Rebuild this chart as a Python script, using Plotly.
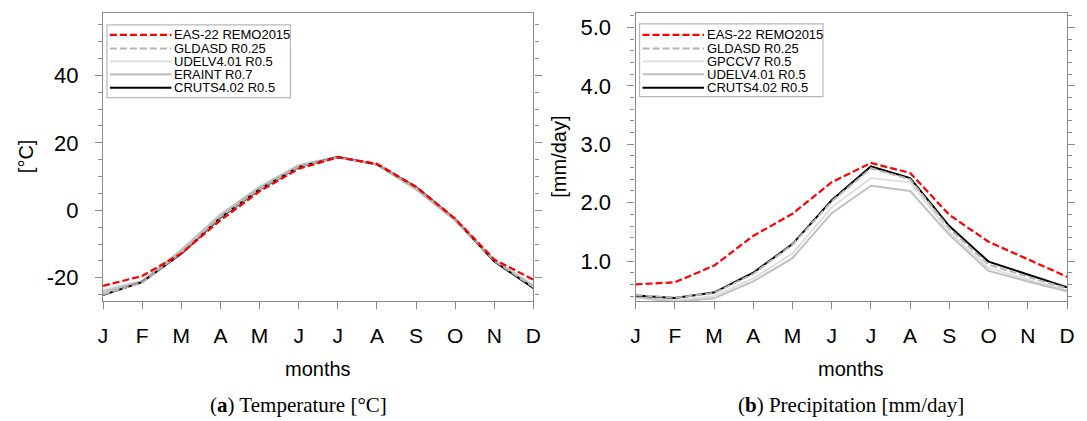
import plotly.graph_objects as go

months = ["J", "F", "M", "A", "M", "J", "J", "A", "S", "O", "N", "D"]
month_idx = list(range(12))

# Temperature [°C]
t_remo = [-22.4, -19.5, -12.8, -3.0, 5.6, 12.3, 15.7, 13.8, 7.0, -2.5, -14.6, -20.6]
t_gldas = [-25.0, -21.4, -12.6, -2.0, 6.3, 12.9, 15.7, 13.6, 6.7, -2.7, -15.0, -22.8]
t_udel = [-23.6, -21.0, -12.0, -1.6, 6.6, 13.1, 15.6, 13.5, 6.4, -2.9, -14.7, -22.2]
t_eraint = [-24.2, -21.0, -11.8, -1.3, 6.9, 13.3, 15.9, 13.6, 6.2, -3.0, -15.0, -22.5]
t_cru = [-25.1, -21.3, -12.9, -2.2, 6.2, 12.8, 15.8, 13.6, 6.9, -2.6, -15.2, -23.1]

# Precipitation [mm/day]
p_remo = [0.60, 0.635, 0.92, 1.43, 1.81, 2.35, 2.68, 2.51, 1.79, 1.33, 1.03, 0.73]
p_gldas = [0.42, 0.37, 0.45, 0.78, 1.28, 2.02, 2.59, 2.40, 1.56, 0.94, 0.73, 0.53]
p_gpcc = [0.40, 0.33, 0.40, 0.70, 1.13, 1.92, 2.42, 2.35, 1.50, 0.88, 0.68, 0.50]
p_udel = [0.38, 0.30, 0.36, 0.65, 1.05, 1.82, 2.29, 2.20, 1.45, 0.83, 0.65, 0.48]
p_cru = [0.41, 0.366, 0.46, 0.80, 1.29, 2.04, 2.62, 2.42, 1.60, 0.99, 0.77, 0.55]

t_yticks = [-20, 0, 20, 40]
p_yticks = [1.0, 2.0, 3.0, 4.0, 5.0]

RED = "#ff0000"
DASH = "7px,3px"
GLDAS_C = "#b4b4b4"
LIGHT = "#dcdcdc"
MID = "#c0c0c0"
BLACK = "#000000"
AXC = "#8a8a8a"
FONT = "Liberation Sans"

W, H = 1087, 421
L, R, T, B = 103, 12, 12, 120
PW = W - L - R
PH = H - T - B
# panel pixel extents
P1 = (103, 537)
P2 = (640, 1075)
d1 = [(P1[0] - L) / PW, (P1[1] - L) / PW]
d2 = [(P2[0] - L) / PW, (P2[1] - L) / PW]

fig = go.Figure()

left_series = [
    ("UDELV4.01 R0.5", t_udel, LIGHT, "solid", 1.8),
    ("ERAINT R0.7", t_eraint, MID, "solid", 2.4),
    ("CRUTS4.02 R0.5", t_cru, BLACK, "solid", 2.0),
    ("GLDASD R0.25", t_gldas, GLDAS_C, DASH, 2.0),
    ("EAS-22 REMO2015", t_remo, RED, DASH, 2.2),
]
right_series = [
    ("GPCCV7 R0.5", p_gpcc, LIGHT, "solid", 1.8),
    ("UDELV4.01 R0.5", p_udel, MID, "solid", 2.0),
    ("CRUTS4.02 R0.5", p_cru, BLACK, "solid", 2.0),
    ("GLDASD R0.25", p_gldas, GLDAS_C, DASH, 2.0),
    ("EAS-22 REMO2015", p_remo, RED, DASH, 2.2),
]

for name, vals, col, dash, w in left_series:
    fig.add_trace(go.Scatter(x=month_idx, y=vals, mode="lines", name=name,
                             line=dict(color=col, dash=dash, width=w),
                             xaxis="x", yaxis="y", showlegend=False))
for name, vals, col, dash, w in right_series:
    fig.add_trace(go.Scatter(x=month_idx, y=vals, mode="lines", name=name,
                             line=dict(color=col, dash=dash, width=w),
                             xaxis="x2", yaxis="y2", showlegend=False))

xax = dict(range=[0, 11], tickmode="array", tickvals=month_idx, ticktext=months,
           showgrid=False, zeroline=False, showline=True, linecolor=AXC, linewidth=1.2,
           mirror=True, ticks="outside", ticklen=7, tickcolor=AXC, tickwidth=1.2,
           ticklabelstandoff=9,
           tickfont=dict(family=FONT, size=21, color="#000"))
yax_common = dict(showgrid=False, zeroline=False, showline=True, linecolor=AXC, linewidth=1.2,
                  mirror="ticks", ticks="outside", ticklen=7, tickcolor=AXC, tickwidth=1.2,
                  ticklabelstandoff=12,
                  tickfont=dict(family=FONT, size=22, color="#000"))

fig.update_layout(
    width=W, height=H,
    margin=dict(l=L, r=R, t=T, b=B),
    paper_bgcolor="white", plot_bgcolor="white",
    xaxis=dict(domain=d1, anchor="y", **xax),
    xaxis2=dict(domain=d2, anchor="y2", **xax),
    yaxis=dict(domain=[0, 1], anchor="x", range=[-26.9, 58.5], tickvals=t_yticks,
               ticktext=[str(v) for v in t_yticks],
               minor=dict(dtick=5, ticklen=4, tickcolor=AXC, ticks="outside", tick0=0),
               **yax_common),
    yaxis2=dict(domain=[0, 1], anchor="x2", range=[0.315, 5.25], tickvals=p_yticks,
                ticktext=[f"{v:.1f}" for v in p_yticks],
                minor=dict(dtick=0.2, ticklen=4, tickcolor=AXC, ticks="outside", tick0=0),
                **yax_common),
    showlegend=False,
)

annotations = []
shapes = []


def px2x(px):
    return (px - L) / PW


def px2y(py):
    return (T + PH - py) / PH


# axis titles
annotations.append(dict(text="[°C]", x=px2x(25), y=px2y(156), xref="paper", yref="paper",
                        showarrow=False, textangle=-90, font=dict(family=FONT, size=20, color="#000"),
                        xanchor="center", yanchor="middle"))
annotations.append(dict(text="[mm/day]", x=px2x(562), y=px2y(156), xref="paper", yref="paper",
                        showarrow=False, textangle=-90, font=dict(family=FONT, size=20, color="#000"),
                        xanchor="center", yanchor="middle"))
for cx in [(P1[0] + P1[1]) / 2, (P2[0] + P2[1]) / 2]:
    annotations.append(dict(text="months", x=px2x(cx), y=px2y(369), xref="paper", yref="paper",
                            showarrow=False, font=dict(family=FONT, size=20, color="#000"),
                            xanchor="center", yanchor="middle"))

# captions
annotations.append(dict(text="(<b>a</b>) Temperature [°C]", x=px2x(300), y=px2y(405),
                        xref="paper", yref="paper", showarrow=False,
                        font=dict(family="Liberation Serif", size=21, color="#000"),
                        xanchor="center", yanchor="middle"))
annotations.append(dict(text="(<b>b</b>) Precipitation [mm/day]", x=px2x(857), y=px2y(405),
                        xref="paper", yref="paper", showarrow=False,
                        font=dict(family="Liberation Serif", size=21, color="#000"),
                        xanchor="center", yanchor="middle"))

# manual legends (decoration)
legend_left = ["EAS-22 REMO2015", "GLDASD R0.25", "UDELV4.01 R0.5", "ERAINT R0.7", "CRUTS4.02 R0.5"]
legend_left_sty = [(RED, "dash", 2.2), (GLDAS_C, "dash", 2.0), (LIGHT, "solid", 1.8),
                   (MID, "solid", 2.2), (BLACK, "solid", 2.0)]
legend_right = ["EAS-22 REMO2015", "GLDASD R0.25", "GPCCV7 R0.5", "UDELV4.01 R0.5", "CRUTS4.02 R0.5"]
legend_right_sty = [(RED, "dash", 2.2), (GLDAS_C, "dash", 2.0), (LIGHT, "solid", 1.8),
                    (MID, "solid", 2.0), (BLACK, "solid", 2.0)]

rows_y = [34, 47.5, 60.5, 73.5, 87]
for (names, styles, box, line_x, text_x) in [
    (legend_left, legend_left_sty, (107, 24, 292, 97), (110, 172), 173),
    (legend_right, legend_right_sty, (644, 23, 829, 96), (647, 709), 710),
]:
    shapes.append(dict(type="rect", xref="paper", yref="paper",
                       x0=px2x(box[0]), x1=px2x(box[2]), y0=px2y(box[3]), y1=px2y(box[1]),
                       line=dict(color="#b8b8b8", width=1.2), fillcolor="white", layer="above"))
    for nm, (col, dsh, w), ry in zip(names, styles, rows_y):
        shapes.append(dict(type="line", xref="paper", yref="paper",
                           x0=px2x(line_x[0]), x1=px2x(line_x[1]), y0=px2y(ry), y1=px2y(ry),
                           line=dict(color=col, width=w, dash=DASH if dsh == "dash" else "solid"),
                           layer="above"))
        annotations.append(dict(text=nm, x=px2x(text_x), y=px2y(ry), xref="paper", yref="paper",
                                showarrow=False, xanchor="left", yanchor="middle",
                                font=dict(family=FONT, size=13, color="#000")))

fig.update_layout(annotations=annotations, shapes=shapes)
fig.write_html("out.html")
